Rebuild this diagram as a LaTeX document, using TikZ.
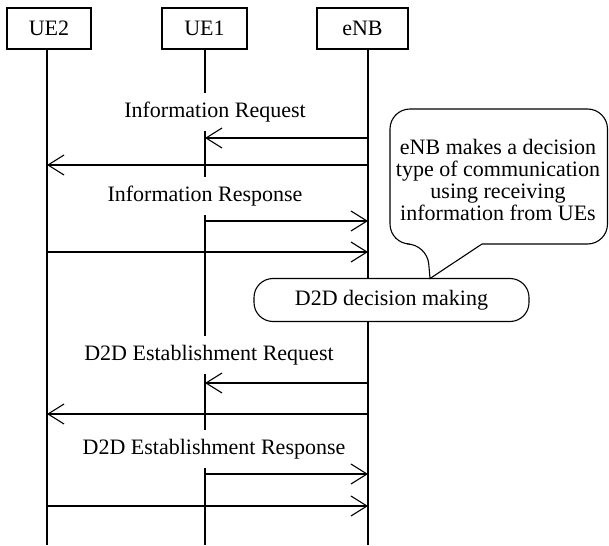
\documentclass[tikz,border=0pt]{standalone}
\usepackage{fontspec}
\setmainfont{Liberation Serif}
\usetikzlibrary{arrows.meta}

\begin{document}
\begin{tikzpicture}[x=1pt,y=-1pt,line width=1.1pt,
    font=\fontsize{22}{22}\selectfont,
    >={Straight Barb[length=16pt,width=20pt]},
    entity/.style={draw,minimum height=41pt,inner sep=0pt},
    msglabel/.style={fill=white,inner xsep=3pt,inner ysep=9pt},
    decision/.style={draw,fill=white,rounded corners=19pt,minimum width=275pt,minimum height=43pt}]
        \useasboundingbox (0,0) rectangle (609,545);
        \node[entity,minimum width=84pt] (ue2) at (49,28.5) {UE2};
        \node[entity,minimum width=85pt] (ue1) at (204.5,28.5) {UE1};
        \node[entity,minimum width=91pt] (enb) at (362.5,28.5) {eNB};
        % message rows on the lifelines
        \foreach \n/\y in {a/138,b/165,c/221,d/252,e/383,f/414,g/474,h/506,z/545} {
            \coordinate (ue2-\n) at (47,\y);
            \coordinate (ue1-\n) at (205,\y);
            \coordinate (enb-\n) at (368,\y);
        }
        \draw (ue2) ++(-2,20.5) -- (ue2-z);
        \draw (ue1) ++(0.5,20.5) -- (ue1-z);
        \draw (enb) ++(5.5,20.5) -- (enb-z);
        \node[msglabel] (inforeq) at (215,112) {Information Request};
        \node[msglabel] (infores) at (205,196) {Information Response};
        \node[msglabel] (estreq) at (209,355) {D2D Establishment Request};
        \node[msglabel] (estres) at (214,449) {D2D Establishment Response};
        \draw[->] (enb-a) -- (ue1-a);
        \draw[->] (enb-b) -- (ue2-b);
        \draw[->] (ue1-c) -- (enb-c);
        \draw[->] (ue2-d) -- (enb-d);
        \draw[->] (enb-e) -- (ue1-e);
        \draw[->] (enb-f) -- (ue2-f);
        \draw[->] (ue1-g) -- (enb-g);
        \draw[->] (ue2-h) -- (enb-h);
        \node[decision] (decide) at (391.5,300) {D2D decision making};
        % speech bubble
        \coordinate (tip) at (430,278.5);
        \draw (482,244) [rounded corners=20pt] -- (607.5,244) -- (607.5,109) -- (390,109) -- (390,244) -- (427,244) [sharp corners] -- (tip) -- cycle;
        \node[align=center,font=\fontsize{22}{21.8}\selectfont] (note) at (498,180) {eNB makes a decision\\type of communication\\using receiving\\information from UEs};
\end{tikzpicture}
\end{document}
